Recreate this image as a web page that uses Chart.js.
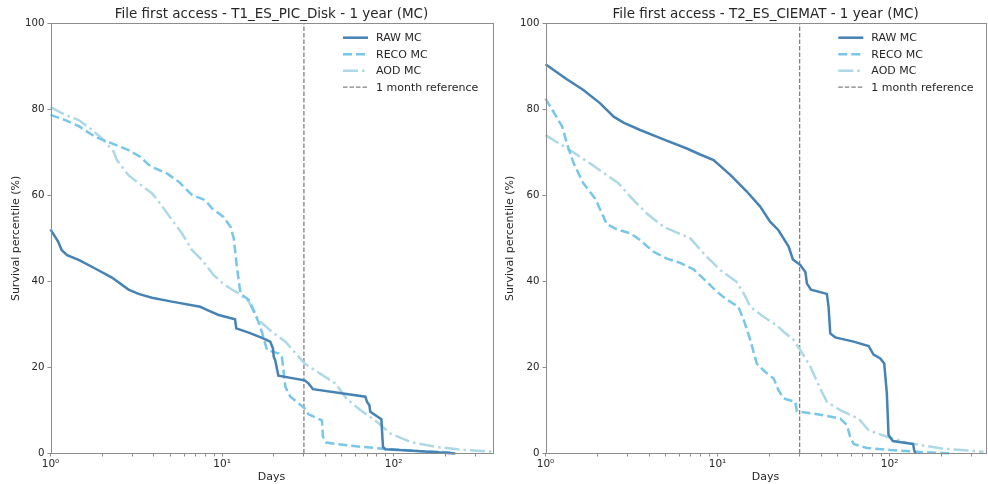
<!DOCTYPE html>
<html>
<head>
<meta charset="utf-8">
<script src="https://cdn.jsdelivr.net/npm/chart.js@4.4.0/dist/chart.umd.min.js"></script>
<style>
  body { margin: 0; background: #fff; }
  .panel { position: absolute; top: 0; width: 494px; height: 484px; }
</style>
</head>
<body>
<div class="panel" style="left:0"><canvas id="picChart" width="494" height="484"></canvas></div>
<div class="panel" style="left:494px"><canvas id="ciematChart" width="494" height="484"></canvas></div>
<script>
// ---- data (days since creation, survival %) ----

// T1_ES_PIC_Disk
const picRawDays = [1, 1.11, 1.16, 1.25, 1.46, 1.82, 2.28, 2.85, 3.26, 3.9, 5.1, 7.46, 8.34, 9.55, 11.9, 12.1, 14.3, 17.1, 19.1, 19.8, 20.0, 20.4, 21.3, 30.3, 31.9, 33.9, 68.4, 70.0, 72.2, 73.1, 84.8, 86.7, 89.5, 137, 229];
const picRawPct = [52.1, 49.2, 47.3, 46.1, 45.0, 43.0, 40.9, 38.1, 37.1, 36.2, 35.3, 34.1, 33.2, 32.2, 31.2, 29.1, 28.1, 26.9, 26.0, 24.4, 22.5, 21.7, 18.1, 17.0, 16.3, 14.95, 13.2, 12.0, 11.2, 9.7, 8.0, 1.5, 1.0, 0.6, 0.0];

const picRecoDays = [1, 1.22, 1.46, 1.82, 2.28, 2.85, 3.33, 3.73, 4.08, 4.77, 5.58, 6.67, 7.98, 8.73, 10.2, 11.2, 11.7, 12.2, 12.8, 14.3, 15.3, 16.7, 18.3, 21.3, 22.3, 23.4, 25.0, 30.3, 31.9, 38.2, 38.7, 40.5, 46.8, 66.9, 87.5, 137, 214];
const picRecoPct = [78.7, 77.5, 76.1, 73.6, 72.1, 70.5, 69.0, 67.1, 66.3, 65.1, 63.2, 60.1, 58.9, 57.0, 55.0, 52.7, 50.0, 43.4, 37.2, 35.7, 33.3, 29.5, 24.0, 23.3, 22.5, 15.5, 13.2, 10.5, 9.1, 7.7, 3.9, 2.55, 2.2, 1.5, 1.1, 0.6, 0.3];

const picAodDays = [1, 1.22, 1.46, 1.67, 1.99, 2.33, 2.44, 2.85, 3.26, 3.9, 4.36, 5.1, 5.83, 6.67, 7.63, 8.92, 10.4, 12.5, 14.3, 15.3, 16.3, 19.5, 23.4, 30.3, 35.8, 45.7, 53.5, 64.0, 80.0, 95.7, 125, 179, 256, 375];
const picAodPct = [80.5, 78.7, 77.5, 75.8, 73.3, 70.2, 68.2, 64.7, 62.8, 60.5, 58.1, 54.3, 51.2, 47.3, 45.0, 41.5, 39.1, 37.2, 35.3, 32.9, 31.0, 28.3, 26.0, 20.9, 19.0, 16.3, 12.6, 10.1, 7.35, 4.65, 2.7, 1.5, 0.85, 0.4];

// T2_ES_CIEMAT
const ciRawDays = [1, 1.33, 1.66, 2.08, 2.49, 2.84, 3.55, 4.85, 6.63, 7.93, 9.48, 11.9, 14.8, 17.7, 20.2, 22.6, 25.9, 27.4, 30.3, 32.4, 33.1, 34.9, 43.2, 44.2, 45.2, 48.3, 61.8, 75.5, 80.7, 88.3, 93.1, 96.4, 98.6, 104.5, 137, 139, 141];
const ciRawPct = [90.5, 87.0, 84.5, 81.4, 78.3, 76.9, 75.2, 73.0, 70.9, 69.5, 68.2, 64.7, 60.9, 57.4, 53.9, 51.9, 48.1, 45.1, 43.8, 42.2, 39.5, 38.1, 37.1, 34.1, 27.9, 27.0, 26.0, 25.0, 23.0, 22.1, 20.9, 14.0, 4.3, 2.9, 2.2, 0.8, 0];

const ciRecoDays = [1, 1.25, 1.33, 1.46, 1.66, 1.94, 2.13, 2.27, 2.6, 3.11, 3.55, 4.24, 5.08, 6.07, 7.25, 8.67, 9.91, 11.3, 13.2, 14.2, 15.5, 16.9, 18.9, 21.2, 22.6, 24.2, 28.3, 28.9, 30.3, 41.3, 51.7, 56.5, 59.0, 61.8, 73.8, 101, 158, 235];
const ciRecoPct = [82.5, 76.0, 72.1, 67.4, 62.8, 59.3, 55.8, 53.3, 52.1, 51.2, 49.6, 46.9, 45.3, 44.3, 42.8, 39.9, 37.6, 35.8, 34.1, 31.0, 26.4, 20.9, 19.0, 17.4, 14.7, 12.8, 12.0, 9.9, 9.7, 8.9, 8.1, 6.6, 3.9, 2.2, 1.3, 0.8, 0.3, 0];

const ciAodDays = [1, 1.39, 1.82, 2.27, 2.66, 3.11, 3.88, 4.85, 6.94, 8.67, 10.4, 12.9, 14.2, 15.5, 18.5, 22.1, 24.2, 27.7, 30.3, 34.6, 39.5, 43.2, 51.7, 66.1, 75.5, 96.4, 126, 197, 352];
const ciAodPct = [74.0, 70.5, 67.4, 64.7, 62.8, 59.7, 55.8, 52.7, 50.0, 45.7, 42.6, 39.9, 37.2, 34.1, 31.8, 29.8, 28.3, 26.4, 24.0, 20.2, 15.1, 12.0, 10.1, 8.1, 5.4, 3.9, 2.5, 1.2, 0.4];

// 1 month reference line
const refDays = [30, 30];
const refPct = [0, 100];

// axis ticks
const xTickValues = [1, 10, 100];
const xTickLabels = ['10\u2070', '10\u00b9', '10\u00b2'];
const xMinorTicks = [2, 3, 4, 5, 6, 7, 8, 9, 20, 30, 40, 50, 60, 70, 80, 90, 200, 300];
const yTickStep = 20;

const seriesLabels = ['RAW MC', 'RECO MC', 'AOD MC', '1 month reference'];

const textColor = '#262626';
const frameColor = '#8c8c8c';

Chart.defaults.font.family = "'DejaVu Sans', sans-serif";
Chart.defaults.color = textColor;

function toPoints(days, pct) {
    return days.map(function (d, i) { return { x: d, y: pct[i] }; });
}

// draws the box around the plot area, like matplotlib spines
const framePlugin = {
    id: 'frame',
    afterDraw: function (chart) {
        const a = chart.chartArea;
        const ctx = chart.ctx;
        ctx.save();
        ctx.strokeStyle = frameColor;
        ctx.lineWidth = 1;
        ctx.strokeRect(Math.round(a.left) + 0.5, Math.round(a.top) + 0.5,
            Math.round(a.right - a.left), Math.round(a.bottom - a.top));
        ctx.restore();
    }
};

// legend in the upper right corner of the plot area, no frame
const insideLegend = {
    id: 'insideLegend',
    afterDraw: function (chart, args, opts) {
        const a = chart.chartArea;
        const ctx = chart.ctx;
        const x0 = a.right - opts.offsetRight;
        ctx.save();
        ctx.font = "11px 'DejaVu Sans'";
        ctx.textBaseline = 'middle';
        ctx.fillStyle = textColor;
        chart.data.datasets.forEach(function (ds, i) {
            const y = a.top + 14.4 + i * 16.5;
            ctx.strokeStyle = ds.borderColor;
            ctx.lineWidth = ds.borderWidth;
            ctx.setLineDash(ds.borderDash || []);
            ctx.beginPath();
            ctx.moveTo(x0, y);
            ctx.lineTo(x0 + 25, y);
            ctx.stroke();
            ctx.fillText(ds.label, x0 + 33, y + 0.5);
        });
        ctx.restore();
    }
};

function buildPanel(canvasId, title, raw, reco, aod, xMax, leftWidth, rightPad, legendOffset) {
    const ctx = document.getElementById(canvasId).getContext('2d');
    return new Chart(ctx, {
        type: 'line',
        data: {
            datasets: [
                { label: seriesLabels[0], data: raw, borderColor: '#4682b4', borderWidth: 2.5 },
                { label: seriesLabels[1], data: reco, borderColor: '#78c6ea', borderWidth: 2.5, borderDash: [9, 4] },
                { label: seriesLabels[2], data: aod, borderColor: '#add8e6', borderWidth: 2.5, borderDash: [15, 4, 2.5, 4] },
                { label: seriesLabels[3], data: toPoints(refDays, refPct), borderColor: '#808080', borderWidth: 1.3, borderDash: [4.5, 2] }
            ]
        },
        options: {
            responsive: false,
            animation: false,
            devicePixelRatio: 1,
            clip: false,
            elements: {
                point: { radius: 0 },
                line: { tension: 0, fill: false, borderCapStyle: 'butt' }
            },
            layout: { padding: { left: 0, right: rightPad, top: 0, bottom: 0 } },
            plugins: {
                legend: { display: false },
                tooltip: { enabled: false },
                title: {
                    display: true,
                    text: title,
                    fullSize: false,
                    color: textColor,
                    font: { size: 13.5, weight: 'normal' },
                    padding: { top: 6, bottom: 1.1 }
                },
                insideLegend: { offsetRight: legendOffset }
            },
            scales: {
                x: {
                    type: 'logarithmic',
                    min: 1,
                    max: xMax,
                    border: { display: false },
                    grid: { drawOnChartArea: false, drawTicks: true, tickLength: 3, tickColor: frameColor },
                    afterBuildTicks: function (scale) {
                        scale.ticks = xTickValues.concat(xMinorTicks)
                            .sort(function (p, q) { return p - q; })
                            .map(function (v) { return { value: v }; });
                    },
                    afterFit: function (scale) { scale.height = 30.5; },
                    ticks: {
                        autoSkip: false,
                        maxRotation: 0,
                        padding: 1,
                        color: textColor,
                        font: { size: 10.5 },
                        callback: function (value) {
                            const k = xTickValues.indexOf(value);
                            return k >= 0 ? xTickLabels[k] : '';
                        }
                    },
                    title: { display: true, text: 'Days', color: textColor, font: { size: 11 }, padding: { top: 0, bottom: 0.4 } }
                },
                y: {
                    min: 0,
                    max: 100,
                    border: { display: false },
                    grid: { drawOnChartArea: false, drawTicks: true, tickLength: 3, tickColor: frameColor },
                    afterFit: function (scale) { scale.width = leftWidth; },
                    ticks: { stepSize: yTickStep, padding: 3, color: textColor, font: { size: 10.2 } },
                    title: { display: true, text: 'Survival percentile (%)', color: textColor, font: { size: 11 }, padding: { top: 9.4, bottom: 0 } }
                }
            }
        },
        plugins: [framePlugin, insideLegend]
    });
}

buildPanel('picChart', 'File first access - T1_ES_PIC_Disk - 1 year (MC)',
    toPoints(picRawDays, picRawPct), toPoints(picRecoDays, picRecoPct), toPoints(picAodDays, picAodPct),
    377, 50.5, 1.5, 149.5);

buildPanel('ciematChart', 'File first access - T2_ES_CIEMAT - 1 year (MC)',
    toPoints(ciRawDays, ciRawPct), toPoints(ciRecoDays, ciRecoPct), toPoints(ciAodDays, ciAodPct),
    362, 51.5, 2.3, 147.4);
</script>
</body>
</html>
